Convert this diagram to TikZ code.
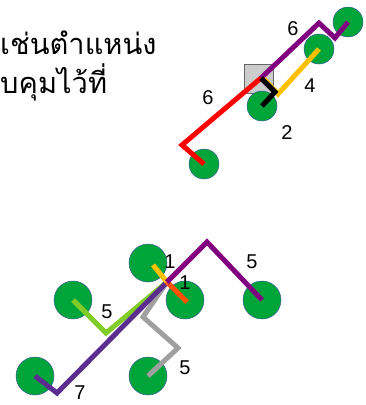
\documentclass[tikz,border=0pt]{standalone}
\usepackage{fontspec}
\setmainfont{Liberation Sans}
\newfontfamily\thaifont[Script=Thai]{Loma}
\definecolor{dotgreen}{HTML}{00A53A}
\definecolor{dotedge}{HTML}{3C5A9A}
\definecolor{linepurple}{HTML}{800080}
\definecolor{lineindigo}{HTML}{5B2D90}
\definecolor{linegold}{HTML}{FFC000}
\definecolor{linered}{HTML}{FF0000}
\definecolor{lineorange}{HTML}{FF5000}
\definecolor{linelime}{HTML}{80CC28}
\definecolor{linegray}{HTML}{A0A0A0}
\usetikzlibrary{positioning}

\begin{document}
\begin{tikzpicture}[x=1pt, y=-1pt]
    \tikzset{
      dot/.style={circle, fill=dotgreen, draw=dotedge, line width=0.5pt, inner sep=0pt},
      smalldot/.style={dot, minimum size=30pt},
      bigdot/.style={dot, minimum size=38pt},
      wire/.style={line width=5pt, line join=miter},
      num/.style={font=\fontsize{20}{20}\selectfont, inner sep=0pt},
      thai/.style={anchor=base west, inner sep=0pt, font=\thaifont\fontsize{29}{29}\selectfont}
    }
    \useasboundingbox (0,0) rectangle (365,405);

    % Thai text at top left
    \node[thai] (t1) at (0,54) {เช่นตำแหน่ง};
    \node[thai] (t2) at (0,93) {บคุมไว้ที่};

    % Upper group
    \node[draw=black!60, fill=gray!40, minimum size=29pt, inner sep=0pt] (box) at (258.5,78.5) {};
    \node[smalldot] (u1) at (348,22) {};
    \node[smalldot] (u2) at (319,49) {};
    \node[smalldot] (u3) at (262,106) {};
    \node[smalldot] (u4) at (204,164) {};
    \coordinate (hubu) at (261,78);

    \draw[wire, linered] (u4.center) -- (182,145) -- (hubu);
    \draw[wire, linepurple] (hubu) -- (319,23) -- (335,38) -- (u1.center);
    \draw[wire, linegold] (264,79) -- (278,94) -- (u2.center);
    \draw[wire, black] (hubu) -- (275,92) -- (u3.center);

    \node[num] (l6a) at (293,29) {6};
    \node[num] (l4) at (310,86) {4};
    \node[num] (l2) at (287,133) {2};
    \node[num] (l6b) at (208,98) {6};

    % Lower group
    \node[bigdot] (d1) at (148,263) {};
    \node[bigdot] (d2) at (73,300) {};
    \node[bigdot] (d3) at (185,300) {};
    \node[bigdot] (d4) at (262,300) {};
    \node[bigdot] (d5) at (35,376) {};
    \node[bigdot] (d6) at (148,376) {};
    \coordinate (hubd) at (167,282);

    \draw[wire, linelime] (d2.center) -- (106,333) -- (hubd);
    \draw[wire, linegray] (d6.center) -- (178,348) -- (143,317) -- (hubd);
    \draw[wire, lineindigo] (d5.center) -- (57,393) -- (hubd);
    \draw[wire, linegold] (153,265) -- (hubd);
    \draw[wire, lineorange] (hubd) -- (187,302);
    \draw[wire, linepurple] (hubd) -- (207,242) -- (d4.center);

    \node[num] (n1a) at (170,262) {1};
    \node[num] (n1b) at (185,283) {1};
    \node[num] (n5a) at (252,262) {5};
    \node[num] (n5b) at (107,312) {5};
    \node[num] (n5c) at (185,368) {5};
    \node[num] (n7) at (80,393) {7};
\end{tikzpicture}
\end{document}
